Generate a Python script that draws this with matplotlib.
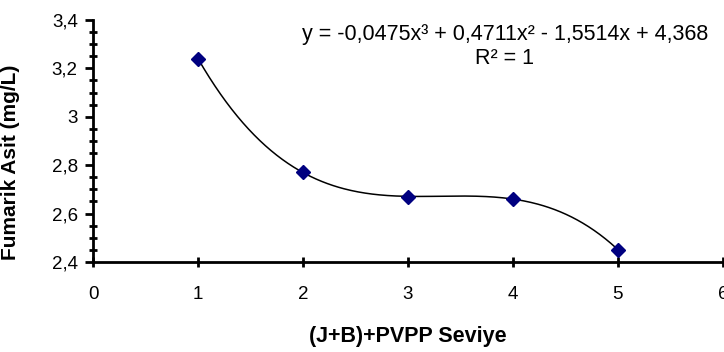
import matplotlib
matplotlib.use("Agg")
import matplotlib.pyplot as plt
import numpy as np
from matplotlib.ticker import FuncFormatter, MultipleLocator

plt.rcParams['font.family'] = ['Liberation Sans', 'DejaVu Sans']

# Fumaric acid at each (J+B)+PVPP level
levels = [1, 2, 3, 4, 5]
fumaric = [3.24, 2.77, 2.67, 2.66, 2.45]

# cubic trendline coefficients (highest power first), as in the equation label
coefs = [-0.0475, 0.4711, -1.5514, 4.368]
eq_label = "y = -0,0475x³ + 0,4711x² - 1,5514x + 4,368\nR² = 1"

fig = plt.figure(figsize=(7.24, 3.52), dpi=100)
ax = fig.add_axes([0.1285, 0.2557, 0.870, 0.6875])

# trendline over the data range
xs = np.linspace(levels[0], levels[-1], 300)
ax.plot(xs, np.polyval(coefs, xs), color='black', lw=1.1, zorder=2)
ax.plot(levels, fumaric, linestyle='none', marker='D', markersize=7,
        color='#000080', zorder=3)

ax.set_xlim(0, 6)
ax.set_ylim(2.4, 3.4)
ax.xaxis.set_major_locator(MultipleLocator(1))
ax.yaxis.set_major_locator(MultipleLocator(0.2))
ax.yaxis.set_minor_locator(MultipleLocator(0.05))

comma = FuncFormatter(lambda v, p: ('%g' % round(v, 2)).replace('.', ','))
ax.xaxis.set_major_formatter(comma)
ax.yaxis.set_major_formatter(comma)

for s in ['top', 'right']:
    ax.spines[s].set_visible(False)
for s in ['left', 'bottom']:
    ax.spines[s].set_linewidth(2)

ax.tick_params(axis='y', which='major', direction='out', length=6, width=2,
               labelsize=13.5, pad=5)
ax.tick_params(axis='y', which='minor', direction='inout', length=6, width=2)
ax.tick_params(axis='x', which='major', direction='inout', length=7, width=2,
               labelsize=13.5, pad=14)

ax.set_ylabel('Fumarik Asit (mg/L)', fontsize=15, fontweight='bold')
ax.yaxis.set_label_coords(-0.116, 0.41)
ax.set_xlabel('(J+B)+PVPP Seviye', fontsize=15.5, fontweight='bold', labelpad=16)

ax.text(0.654, 0.985, eq_label, transform=ax.transAxes, ha='center', va='top',
        fontsize=15.5, linespacing=1.2)

fig.savefig('out.png', dpi=100)
